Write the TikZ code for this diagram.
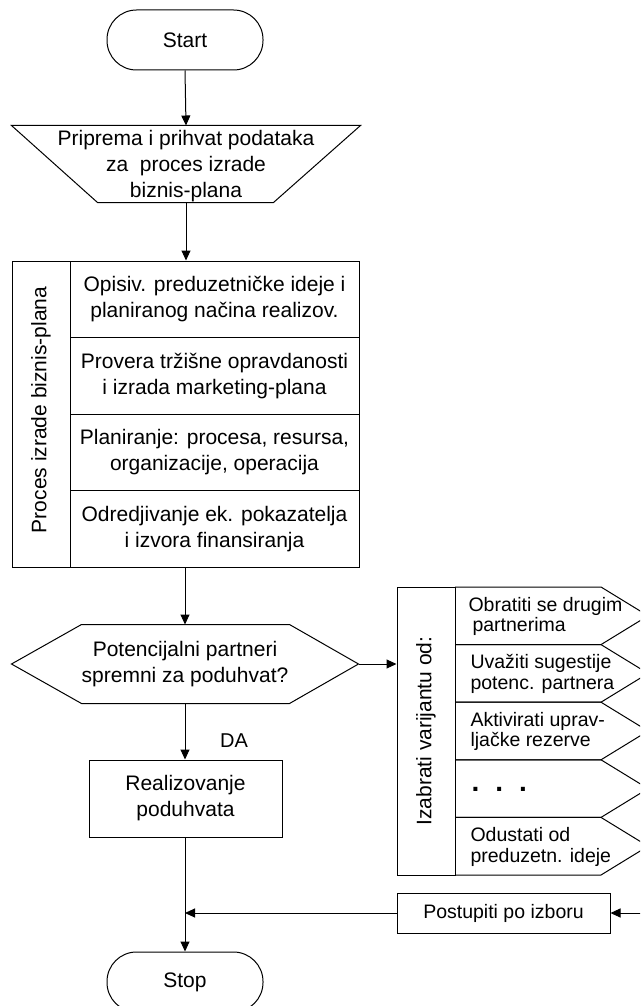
\documentclass[tikz,border=0pt]{standalone}
\usepackage{fontspec}
\setmainfont{Liberation Sans}
\usetikzlibrary{arrows.meta,calc}
\begin{document}
\begin{tikzpicture}[x=1pt,y=-1pt,line width=1pt,
  arr/.style={-{Triangle[length=10pt,width=9pt]}},
  mtxt/.style={font=\fontsize{21}{26}\selectfont,align=center,inner sep=0pt},
  otxt/.style={font=\fontsize{19.5}{20.5}\selectfont,align=left,inner sep=0pt,anchor=west},
  term/.style={draw,rounded corners=29.5pt,minimum width=156pt,minimum height=60pt,mtxt},
  rowbox/.style={draw,mtxt,minimum width=289pt,minimum height=76.5pt}
]
\useasboundingbox (0,0) rectangle (640,1006);
\clip (0,0) rectangle (640,1006);
\fill[white] (0,0) rectangle (640,1006);

% Start
\node[term] (start) at (185,40) {Start};

% Trapezoid (input)
\node[mtxt,minimum width=348pt,minimum height=76pt] (prep) at (186,166)
  {Priprema i prihvat podataka\\za~ proces izrade\\biznis-plana};
\draw ($(prep.north west)+(0,-2)$) -- ($(prep.north east)+(0,-2)$)
  -- ($(prep.south east)+(-87,-2)$) -- ($(prep.south west)+(86,-2)$) -- cycle;

% Process block
\node[draw,minimum width=347pt,minimum height=306pt,inner sep=0pt] (proc) at (185.5,414) {};
\node[mtxt,rotate=90] (procl) at (41,410) {Proces izrade biznis-plana};
\node[rowbox] (r1) at (214.5,299.25) {Opisiv. preduzetničke ideje i\\planiranog načina realizov.};
\node[rowbox] (r2) at (214.5,375.75) {Provera tržišne opravdanosti\\i izrada marketing-plana};
\node[rowbox] (r3) at (214.5,452.25) {Planiranje: procesa, resursa,\\organizacije, operacija};
\node[rowbox] (r4) at (214.5,528.75) {Odredjivanje ek. pokazatelja\\i izvora finansiranja};

% Decision hexagon
\node[mtxt,minimum width=346pt,minimum height=78pt] (dec) at (185,664)
  {Potencijalni partneri\\spremni za poduhvat?};
\draw (dec.west) -- ($(dec.north west)+(70,0)$) -- ($(dec.north east)+(-69,0)$)
  -- (dec.east) -- ($(dec.south east)+(-69,0)$) -- ($(dec.south west)+(70,0)$) -- cycle;

% Realizovanje
\node[draw,mtxt,minimum width=193pt,minimum height=77pt] (real) at (185.5,798.5)
  {Realizovanje\\poduhvata};
\node[font=\fontsize{20}{24}\selectfont,inner sep=0pt] (da) at (234,741) {DA};

% Stop
\node[term] (stop) at (185,982) {Stop};

% Variants block
\node[draw,minimum width=58pt,minimum height=288pt,inner sep=0pt] (izb) at (426,731) {};
\node[mtxt,rotate=90] (izbl) at (426,731) {Izabrati varijantu od:};
\foreach \t in {587,644.6,702.2,759.8,817.4}{
  \draw (455,\t) -- (601,\t) -- (648,\t+28.8) -- (601,\t+57.6) -- (455,\t+57.6);
}
\node[otxt] (o1) at (468,616.4) {Obratiti se drugim\\\hspace*{4pt}partnerima};
\node[otxt] (o2) at (470,674) {Uvažiti sugestije\\potenc. partnera};
\node[otxt] (o3) at (470,731.6) {Aktivirati uprav-\\ljačke rezerve};
\node[otxt,font=\fontsize{28}{28}\selectfont\bfseries] (o4) at (471,789)
  {.\hspace{16pt}.\hspace{16pt}.};
\node[otxt] (o5) at (470,846.8) {Odustati od\\preduzetn. ideje};

% Postupiti
\node[draw,font=\fontsize{19.5}{24}\selectfont,minimum width=213pt,minimum height=40pt] (post)
  at (503.5,913) {Postupiti po izboru};
\coordinate (ein) at (652,913);
\coordinate (join) at (185,913);

% Connectors
\draw[arr] (start.south) -- ($(prep.north)+(0,-2)$);
\draw[arr] ($(prep.south)+(0,-2)$) -- (proc.north -| prep.south);
\draw[arr] (proc.south -| dec.north) -- (dec.north);
\draw[arr] (dec.east) -- (dec.east -| izb.west);
\draw[arr] (dec.south) -- (real.north -| dec.south);
\draw[arr] (real.south -| stop.north) -- (stop.north);
\draw[arr] (ein) -- (post.east);
\draw[arr] (post.west) -- (join);
\end{tikzpicture}
\end{document}
